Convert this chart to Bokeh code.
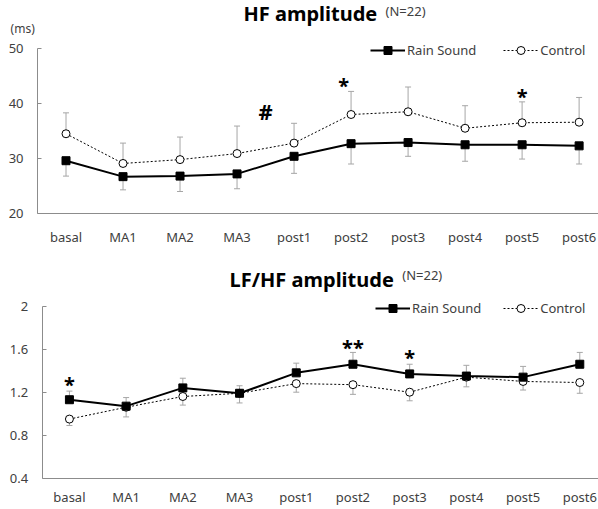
from bokeh.plotting import figure
from bokeh.models import (Range1d, Label, Legend, LegendItem, Whisker, TeeHead,
                          ColumnDataSource, FixedTicker)
from bokeh.layouts import column
from bokeh.embed import file_html
from bokeh.resources import INLINE

categories = ["basal", "MA1", "MA2", "MA3", "post1", "post2", "post3", "post4", "post5", "post6"]

# HF amplitude (ms)
hf_rain = [29.6, 26.7, 26.8, 27.2, 30.4, 32.7, 32.9, 32.5, 32.5, 32.3]
hf_rain_lower = [26.8, 24.3, 24.0, 24.5, 27.3, 29.0, 30.4, 29.5, 29.9, 29.0]
hf_ctrl = [34.5, 29.1, 29.8, 30.9, 32.8, 38.0, 38.5, 35.5, 36.5, 36.6]
hf_ctrl_upper = [38.3, 32.8, 33.9, 35.9, 36.4, 42.2, 43.0, 39.6, 40.3, 41.1]
hf_ticks = [20, 30, 40, 50]

# LF/HF amplitude
lfhf_rain = [1.13, 1.07, 1.24, 1.19, 1.38, 1.46, 1.37, 1.35, 1.34, 1.46]
lfhf_rain_upper = [1.21, 1.15, 1.33, 1.26, 1.47, 1.57, 1.46, 1.45, 1.44, 1.57]
lfhf_ctrl = [0.95, 1.06, 1.16, 1.19, 1.28, 1.27, 1.20, 1.34, 1.30, 1.29]
lfhf_ctrl_lower = [0.89, 0.97, 1.08, 1.10, 1.20, 1.18, 1.12, 1.25, 1.22, 1.19]
lfhf_ticks = [0.4, 0.8, 1.2, 1.6, 2]

FONT = "Noto Sans"
AXIS_COL = "#8c8c8c"
TEXT_COL = "#404040"
ERR_COL = "#a6a6a6"

xs = list(range(len(categories)))


def base_fig(height, xr, axis_x, yr, yticks, xstand, overrides=None):
    p = figure(width=598, height=height, output_backend="svg", toolbar_location=None,
               x_range=Range1d(*xr), y_range=Range1d(*yr),
               min_border_left=0, min_border_right=0, min_border_top=0,
               min_border_bottom=0)
    p.outline_line_color = None
    p.xgrid.visible = False
    p.ygrid.visible = False
    p.background_fill_color = "white"
    p.border_fill_color = "white"
    for ax in (p.xaxis[0], p.yaxis[0]):
        ax.axis_line_color = AXIS_COL
        ax.major_label_text_font = FONT
        ax.major_label_text_font_size = "13px"
        ax.major_label_text_color = TEXT_COL
        ax.minor_tick_line_color = None
    # x axis, fixed at the bottom value of the y scale
    p.xaxis.fixed_location = yticks[0]
    p.xaxis.ticker = FixedTicker(ticks=xs)
    p.xaxis.major_label_overrides = {i: c for i, c in enumerate(categories)}
    p.xaxis.major_tick_line_color = None
    p.xaxis.major_label_standoff = xstand
    p.xaxis.bounds = (axis_x, xr[1])
    # y axis, fixed at the left edge of the category area
    p.yaxis.fixed_location = axis_x
    p.yaxis.bounds = (yticks[0], yticks[-1])
    p.yaxis.ticker = FixedTicker(ticks=yticks)
    p.yaxis.major_tick_out = 0
    p.yaxis.major_tick_in = 4
    p.yaxis.major_tick_line_color = AXIS_COL
    p.yaxis.major_label_standoff = 14
    if overrides:
        p.yaxis.major_label_overrides = overrides
    return p


def add_series(p, rain, ctrl, rain_err, ctrl_err, rain_up, legend_loc, spacing):
    src = ColumnDataSource(dict(x=xs, rain=rain, ctrl=ctrl, rerr=rain_err, cerr=ctrl_err))
    if rain_up:
        wr = Whisker(source=src, base="x", lower="rain", upper="rerr", line_color=ERR_COL,
                     upper_head=TeeHead(size=6, line_color=ERR_COL), lower_head=None, level="underlay")
        wc = Whisker(source=src, base="x", lower="cerr", upper="ctrl", line_color=ERR_COL,
                     lower_head=TeeHead(size=6, line_color=ERR_COL), upper_head=None, level="underlay")
    else:
        wr = Whisker(source=src, base="x", lower="rerr", upper="rain", line_color=ERR_COL,
                     lower_head=TeeHead(size=6, line_color=ERR_COL), upper_head=None, level="underlay")
        wc = Whisker(source=src, base="x", lower="ctrl", upper="cerr", line_color=ERR_COL,
                     upper_head=TeeHead(size=6, line_color=ERR_COL), lower_head=None, level="underlay")
    p.add_layout(wr)
    p.add_layout(wc)
    cl = p.line("x", "ctrl", source=src, line_color="black", line_width=1, line_dash="2 2")
    cm = p.scatter("x", "ctrl", source=src, marker="circle", size=8, fill_color="white",
                   line_color="black", line_width=1)
    rl = p.line("x", "rain", source=src, line_color="black", line_width=2)
    rm = p.scatter("x", "rain", source=src, marker="square", size=8, fill_color="black",
                   line_color="black")
    leg = Legend(items=[LegendItem(label="Rain Sound", renderers=[rl, rm]),
                        LegendItem(label="Control", renderers=[cl, cm])],
                 orientation="horizontal", location=legend_loc, glyph_width=35,
                 glyph_height=20, label_standoff=2, spacing=spacing, padding=0, margin=0,
                 border_line_color=None, background_fill_alpha=0,
                 label_text_font=FONT, label_text_font_size="13px",
                 label_text_color=TEXT_COL, label_height=20)
    p.add_layout(leg)


def txt(p, x, y, t, size, bold=False, align="center", color="black"):
    p.add_layout(Label(x=x, y=y, text=t, text_font=FONT, text_font_size=size,
                       text_font_style="bold" if bold else "normal",
                       text_align=align, text_baseline="middle", text_color=color))


# ---- top chart ----
p1 = base_fig(255, (-1.149, 9.34), -0.5, (12.364, 58.73), hf_ticks, 8)
add_series(p1, hf_rain, hf_ctrl, hf_rain_lower, hf_ctrl_upper, False, (370, 195), 27)
txt(p1, 5.46, 56.36, "HF amplitude", "20px", bold=True, align="right")
txt(p1, 5.605, 56.73, "(N=22)", "13px", align="left", color=TEXT_COL)
txt(p1, -0.76, 53.6, "(ms)", "12px", color=TEXT_COL)
txt(p1, 3.5, 38.7, "#", "22px", bold=True)
txt(p1, 4.87, 43.3, "*", "20px", bold=True)
txt(p1, 8.0, 41.3, "*", "20px", bold=True)

# ---- bottom chart ----
p2 = base_fig(254, (-1.2155, 9.33), -0.48, (0.1088, 2.4716), lfhf_ticks, 4,
              overrides={0.4: "0.4", 0.8: "0.8", 1.2: "1.2", 1.6: "1.6", 2: "2"})
add_series(p2, lfhf_rain, lfhf_ctrl, lfhf_rain_upper, lfhf_ctrl_lower, True, (375, 191), 22)
txt(p2, 5.721, 2.248, "LF/HF amplitude", "20px", bold=True, align="right")
txt(p2, 5.869, 2.290, "(N=22)", "13px", align="left", color=TEXT_COL)
txt(p2, 0.0, 1.27, "*", "20px", bold=True)
txt(p2, 5.0, 1.62, "**", "20px", bold=True)
txt(p2, 6.0, 1.52, "*", "20px", bold=True)

layout = column(p1, p2, spacing=0)
open("out.html", "w").write(file_html(layout, INLINE))
